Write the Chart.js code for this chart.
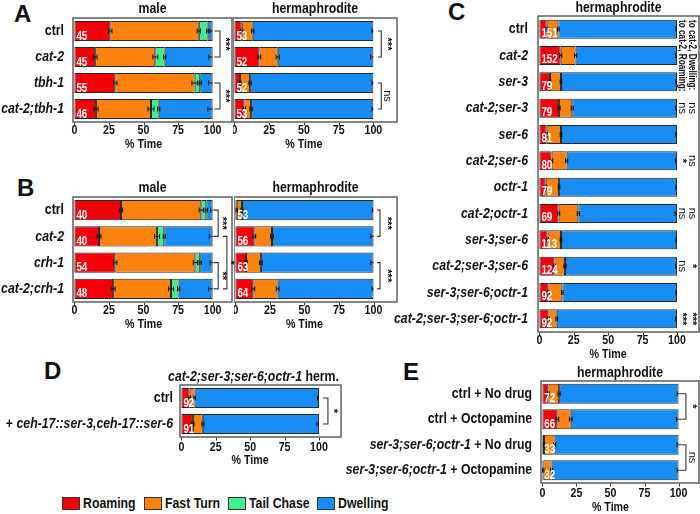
<!DOCTYPE html>
<html><head><meta charset="utf-8">
<script src="https://cdn.jsdelivr.net/npm/chart.js@4.4.1/dist/chart.umd.min.js"></script>
<style>
html,body{margin:0;padding:0;background:#fff;}
body{width:700px;height:514px;overflow:hidden;position:relative;}
canvas{position:absolute;}
.letter{position:absolute;font:bold 24px "Liberation Sans",Arial,sans-serif;line-height:24px;color:#111;}
.lbox{position:absolute;width:16px;height:11px;border:1.5px solid #333;top:497px;}
.ltxt{position:absolute;top:494px;font-weight:bold;font-size:15px;line-height:18px;color:#111;transform-origin:0 50%;white-space:nowrap;}
</style></head><body>
<div class="letter" style="left:14px;top:2px">A</div>
<div class="letter" style="left:17px;top:176px">B</div>
<div class="letter" style="left:448px;top:0px">C</div>
<div class="letter" style="left:44px;top:359px">D</div>
<div class="letter" style="left:403px;top:360px">E</div>
<script>
// ---------------- DATA ----------------
const behaviours = ['Roaming', 'Fast Turn', 'Tail Chase', 'Dwelling'];
const xTicks = [0, 25, 50, 75, 100];
const xTitle = '% Time';

// Panel A
const aLabels = ['ctrl', 'cat-2', 'tbh-1', 'cat-2;tbh-1'];
const aMaleRoaming = [26, 15, 29.6, 15.7];
const aMaleFastTurn = [64, 43.5, 57.4, 39.7];
const aMaleTailChase = [6.4, 6.8, 4, 5.6];
const aMaleDwelling = [3.6, 34.7, 9, 39];
const aMaleN = [45, 45, 55, 46];
const aMaleErr = [[1.2, 1.2, 0.8, 2], [1.4, 1.8, 0.8, 3], [1.2, 2, 0.8, 3], [1.4, 2.2, 0.8, 3.5]];
const aMaleSig = [[0, 1, '***'], [2, 3, '***']];
const aHermRoaming = [5.3, 18, 4, 7.2];
const aHermFastTurn = [7.9, 13.2, 7.3, 4.8];
const aHermDwelling = [86.8, 68.8, 88.7, 88];
const aHermN = [53, 52, 52, 53];
const aHermErr = [[0.8, 0.8, 1], [1, 1.2, 2], [0.8, 0.8, 1], [0.8, 0.8, 1]];
const aHermSig = [[0, 1, '***'], [2, 3, 'ns']];

// Panel B
const bLabels = ['ctrl', 'cat-2', 'crh-1', 'cat-2;crh-1'];
const bMaleRoaming = [33.7, 17.8, 29.6, 28];
const bMaleFastTurn = [58.1, 42, 57.9, 41.9];
const bMaleTailChase = [3.6, 5.2, 3.5, 5.5];
const bMaleDwelling = [4.6, 35, 9, 24.6];
const bMaleN = [40, 40, 54, 48];
const bMaleErr = [[1.2, 1.5, 0.8, 1.5], [1.4, 1.8, 0.8, 2.5], [1.2, 1.5, 0.8, 1.8], [1.4, 1.8, 0.8, 3]];
const bMaleSig = [[0, 1, '***'], [2, 3, '**']];
const bMaleSig2 = [[1, 3, '*']];
const bHermRoaming = [1, 13.7, 7.7, 13];
const bHermFastTurn = [3.8, 12.8, 10.8, 17.6];
const bHermDwelling = [95.2, 73.5, 81.5, 69.4];
const bHermN = [53, 56, 63, 64];
const bHermErr = [[0.5, 0.8, 0.8], [1, 1, 2], [1, 1, 2], [1, 1, 1]];
const bHermSig = [[0, 1, '***'], [2, 3, '***']];

// Panel C
const cLabels = ['ctrl', 'cat-2', 'ser-3', 'cat-2;ser-3', 'ser-6', 'cat-2;ser-6', 'octr-1',
  'cat-2;octr-1', 'ser-3;ser-6', 'cat-2;ser-3;ser-6', 'ser-3;ser-6;octr-1', 'cat-2;ser-3;ser-6;octr-1'];
const cRoaming = [5.3, 15.5, 7.7, 14.3, 5.3, 8.9, 4.6, 14, 6, 10.9, 6.5, 6.5];
const cFastTurn = [8.5, 10.8, 8, 9.6, 10.4, 10.9, 9.7, 14.3, 9.7, 7.7, 10.2, 6.1];
const cDwelling = [86.2, 73.7, 84.3, 76.1, 84.3, 80.2, 85.7, 71.7, 84.3, 81.4, 83.3, 87.4];
const cN = [151, 152, 79, 79, 81, 80, 79, 69, 113, 124, 92, 92];
const cErr = [[0.6, 0.6, 0.8], [0.8, 0.8, 1], [0.6, 0.6, 0.8], [0.8, 0.8, 1], [0.6, 0.6, 0.8], [0.8, 0.8, 1.2],
  [0.6, 0.6, 0.8], [0.8, 0.8, 1.5], [0.6, 0.6, 0.8], [0.8, 0.8, 1], [0.6, 0.6, 0.8], [0.6, 0.6, 1]];
const cRoamingSig = ['', '', '', 'ns', '', '*', '', 'ns', '', 'ns', '', '***'];
const cDwellingSig = ['', '', '', 'ns', '', 'ns', '', 'ns', '', '*', '', '***'];
const cSigHeaders = ['to cat-2, Roaming:', 'to cat-2, Dwelling:'];

// Panel D
const dLabels = ['ctrl', '+ ceh-17::ser-3,ceh-17::ser-6'];
const dRoaming = [6, 8.4];
const dFastTurn = [3.6, 7.2];
const dDwelling = [90.4, 84.4];
const dN = [92, 91];
const dErr = [[0.6, 0.6, 1], [0.8, 0.8, 1.5]];
const dSig = [[0, 1, '*']];

// Panel E
const eLabels = ['ctrl + No drug', 'ctrl + Octopamine', 'ser-3;ser-6;octr-1 + No drug', 'ser-3;ser-6;octr-1 + Octopamine'];
const eRoaming = [4.4, 11, 1.2, 0.7];
const eFastTurn = [7.9, 9.8, 7.8, 6.1];
const eDwelling = [87.7, 79.2, 91, 93.2];
const eN = [72, 66, 33, 32];
const eErr = [[0.8, 0.8, 1], [1, 1, 1.5], [0.5, 0.8, 1], [0.5, 0.8, 1]];
const eSig = [[0, 1, '*'], [2, 3, 'ns']];

// ---------------- STYLE ----------------
const COLORS = {'Roaming': '#f40009', 'Fast Turn': '#fb820f', 'Tail Chase': '#3fef8f', 'Dwelling': '#178cf2'};
const NARROW = (() => {
  const c = document.createElement('canvas').getContext('2d');
  c.font = 'bold 40px "Liberation Sans Narrow", monospace';
  const a = c.measureText('abcdefghij').width;
  c.font = 'bold 40px monospace';
  const b = c.measureText('abcdefghij').width;
  return Math.abs(a - b) > 0.5;
})();
const FAM = NARROW ? '"Liberation Sans Narrow"' : '"Liberation Sans"';
const FAMLIST = FAM + ', "Liberation Sans", Arial, sans-serif';
const CF = NARROW ? 1 : 0.82;
const TEXT = '#111';

// legend (HTML)
const legendX = [62, 144, 228, 317];
behaviours.forEach((b, i) => {
  const bx = document.createElement('div'); bx.className = 'lbox';
  bx.style.left = legendX[i] + 'px'; bx.style.background = COLORS[b];
  const tx = document.createElement('div'); tx.className = 'ltxt';
  tx.style.left = (legendX[i] + 21) + 'px'; tx.style.fontFamily = FAMLIST;
  tx.style.transform = 'scaleX(' + CF + ')'; tx.textContent = b;
  document.body.appendChild(bx); document.body.appendChild(tx);
});

function segsOf(label) {
  if (label.startsWith('ctrl')) return [{t: label, it: false}];
  if (label.startsWith('+ ')) return [{t: '+ ', it: false}, {t: label.slice(2), it: true}];
  const k = label.indexOf(' + ');
  if (k >= 0) return [{t: label.slice(0, k), it: true}, {t: label.slice(k), it: false}];
  return [{t: label, it: true}];
}
function fontStr(size, it, bold = true) { return (it ? 'italic ' : '') + (bold ? 'bold ' : '') + size + 'px ' + FAMLIST; }
function drawSegs(ctx, segs, x, y, size, align, bold = true) {
  ctx.save();
  let total = 0;
  segs.forEach(s => { ctx.font = fontStr(size, s.it, bold); s.w = ctx.measureText(s.t).width; total += s.w; });
  ctx.translate(x, y); ctx.scale(CF, 1);
  let cx = align === 'right' ? -total : align === 'center' ? -total / 2 : 0;
  ctx.textBaseline = 'middle'; ctx.textAlign = 'left'; ctx.fillStyle = TEXT;
  segs.forEach(s => { ctx.font = fontStr(size, s.it, bold); ctx.fillText(s.t, cx, 0); cx += s.w; });
  ctx.restore();
}
function rotText(ctx, text, x, y, font, align, cf) {
  ctx.save(); ctx.translate(x, y); ctx.rotate(Math.PI / 2); ctx.scale(cf, 1);
  ctx.font = font; ctx.textAlign = align; ctx.textBaseline = 'middle'; ctx.fillStyle = TEXT;
  ctx.fillText(text, 0, 0); ctx.restore();
}
const SIGFONT = t => (t === 'ns' ? '' : 'bold ') + '11px "Liberation Sans", Arial, sans-serif';

const panelPlugin = {
  id: 'panel',
  afterDraw(chart) {
    const o = chart.options.plugins.panel;
    const ctx = chart.ctx, a = chart.chartArea, xs = chart.scales.x, ys = chart.scales.y;
    const X = v => xs.getPixelForValue(v);
    const dsets = chart.data.datasets;
    const meta0 = chart.getDatasetMeta(0);
    ctx.save();
    // frame
    ctx.strokeStyle = '#5e5e5e'; ctx.lineWidth = 1.5;
    ctx.strokeRect(a.left, a.top, a.right - a.left, a.bottom - a.top);
    // x ticks, labels, title
    ctx.strokeStyle = '#333'; ctx.lineWidth = 1;
    xTicks.forEach(v => {
      const x = Math.round(X(v)) + 0.5;
      ctx.beginPath(); ctx.moveTo(x, a.bottom + 0.75); ctx.lineTo(x, a.bottom + 3.5); ctx.stroke();
      drawSegs(ctx, [{t: String(v), it: false}], X(v), a.bottom + o.tickOff, 13, 'center');
    });
    drawSegs(ctx, [{t: xTitle, it: false}], X(50), a.bottom + o.xTitleOff, 13, 'center');
    // error bars
    ctx.strokeStyle = '#111'; ctx.lineWidth = 1;
    chart.data.labels.forEach((lab, i) => {
      const y = ys.getPixelForValue(i);
      let cum = 0;
      dsets.forEach((ds, k) => {
        cum += ds.data[i];
        const e = o.err[i][k]; if (!e) return;
        const last = k === dsets.length - 1;
        const lo = X(cum - e), hi = last ? X(cum) : X(cum + e);
        ctx.beginPath(); ctx.moveTo(lo, y); ctx.lineTo(hi, y);
        ctx.moveTo(lo, y - 2.5); ctx.lineTo(lo, y + 2.5);
        if (!last) { ctx.moveTo(hi, y - 2.5); ctx.lineTo(hi, y + 2.5); }
        ctx.stroke();
      });
    });
    // counts
    ctx.fillStyle = '#fff'; ctx.textAlign = 'left'; ctx.textBaseline = 'alphabetic';
    o.n.forEach((n, i) => {
      const el = meta0.data[i];
      const y = el.y + el.height / 2 - 1.5;
      ctx.save(); ctx.translate(X(0) + 2, y); ctx.scale(CF, 1);
      ctx.font = fontStr(12, false); ctx.fillText(String(n), 0, 0); ctx.restore();
    });
    // category labels
    if (o.showLabels) {
      chart.data.labels.forEach((lab, i) => {
        drawSegs(ctx, segsOf(lab), a.left - o.labelGap, ys.getPixelForValue(i), 15, 'right');
      });
    }
    // title
    const tsegs = Array.isArray(o.title) ? o.title : [{t: o.title, it: false}];
    drawSegs(ctx, tsegs, (a.left + a.right) / 2 + (o.titleDx || 0), a.top - o.titleOff, 15, 'center');
    // significance brackets
    ctx.strokeStyle = '#333'; ctx.lineWidth = 1.1;
    (o.brackets || []).forEach(g => {
      g.pairs.forEach(([p, q, t]) => {
        const y1 = ys.getPixelForValue(p), y2 = ys.getPixelForValue(q);
        const x1 = X(g.x1), x2 = X(g.x2);
        ctx.beginPath(); ctx.moveTo(x1, y1); ctx.lineTo(x2, y1); ctx.lineTo(x2, y2); ctx.lineTo(x1, y2); ctx.stroke();
        rotText(ctx, t, X(g.tx), (y1 + y2) / 2, SIGFONT(t), 'center', 1);
      });
    });
    // column significance (panel C)
    (o.columns || []).forEach(c => {
      rotText(ctx, c.header, X(c.x), a.top + 4, 'bold 10px ' + FAMLIST, 'left', CF);
      c.values.forEach((t, i) => {
        if (!t) return;
        rotText(ctx, t, X(c.x), ys.getPixelForValue(i), SIGFONT(t), 'center', 1);
      });
    });
    ctx.restore();
  }
};

function makeChart(p) {
  const cv = document.createElement('canvas');
  cv.width = p.w; cv.height = p.h;
  cv.style.left = p.left + 'px'; cv.style.top = p.top + 'px';
  cv.style.width = p.w + 'px'; cv.style.height = p.h + 'px';
  document.body.appendChild(cv);
  const datasets = p.series.map(s => ({
    label: s.name, data: s.data, backgroundColor: COLORS[s.name],
    borderColor: '#262626', borderWidth: 1, borderSkipped: false,
    categoryPercentage: 1, barPercentage: p.barPct
  }));
  return new Chart(cv.getContext('2d'), {
    type: 'bar',
    data: {labels: p.labels, datasets},
    options: {
      indexAxis: 'y', responsive: false, animation: false, devicePixelRatio: 1,
      layout: {padding: {top: p.padTop, right: p.padRight, left: 0, bottom: 0}},
      plugins: {
        legend: {display: false}, tooltip: {enabled: false},
        panel: {err: p.err, n: p.n, showLabels: p.showLabels, labelGap: p.labelGap || 9,
          title: p.title, titleOff: p.titleOff || 9, titleDx: p.titleDx, brackets: p.brackets, columns: p.columns,
          tickOff: p.tickOff || 8, xTitleOff: p.xTitleOff || 22}
      },
      scales: {
        x: {
          stacked: true, min: -1, max: p.xMax,
          afterBuildTicks: s => { s.ticks = xTicks.map(v => ({value: v})); },
          afterFit: s => { s.height = p.xH; },
          ticks: {display: false},
          grid: {display: false},
          border: {display: false},
          title: {display: false}
        },
        y: {
          stacked: true, ticks: {display: false}, grid: {display: false}, border: {display: false},
          afterFit: s => { s.width = p.yW; }
        }
      }
    },
    plugins: [panelPlugin]
  });
}

const S = (names, arrs) => names.map((n, i) => ({name: n, data: arrs[i]}));
const M4 = ['Roaming', 'Fast Turn', 'Tail Chase', 'Dwelling'];
const H3 = ['Roaming', 'Fast Turn', 'Dwelling'];

// A
makeChart({left: 0, top: 0, w: 240, h: 152, yW: 73, padTop: 18, padRight: 8, xH: 30, xMax: 114, barPct: 0.77,
  labels: aLabels, series: S(M4, [aMaleRoaming, aMaleFastTurn, aMaleTailChase, aMaleDwelling]),
  err: aMaleErr, n: aMaleN, showLabels: true, title: 'male',
  brackets: [{x1: 101.2, x2: 105.3, tx: 109, pairs: aMaleSig}]});
makeChart({left: 233, top: 0, w: 170, h: 152, yW: 0, padTop: 18, padRight: 6, xH: 30, xMax: 117, barPct: 0.77,
  labels: aLabels, series: S(H3, [aHermRoaming, aHermFastTurn, aHermDwelling]),
  err: aHermErr, n: aHermN, showLabels: false, title: 'hermaphrodite',
  brackets: [{x1: 103.2, x2: 105.7, tx: 109.5, pairs: aHermSig}]});
// B
makeChart({left: 0, top: 179, w: 240, h: 153, yW: 73, padTop: 18, padRight: 8, xH: 30, xMax: 114, barPct: 0.77,
  labels: bLabels, series: S(M4, [bMaleRoaming, bMaleFastTurn, bMaleTailChase, bMaleDwelling]),
  err: bMaleErr, n: bMaleN, showLabels: true, title: 'male',
  brackets: [{x1: 100.6, x2: 104, tx: 106.6, pairs: bMaleSig}, {x1: 107.4, x2: 110.3, tx: 112.6, pairs: bMaleSig2}]});
makeChart({left: 234, top: 179, w: 170, h: 153, yW: 0, padTop: 18, padRight: 7, xH: 30, xMax: 117, barPct: 0.77,
  labels: bLabels, series: S(H3, [bHermRoaming, bHermFastTurn, bHermDwelling]),
  err: bHermErr, n: bHermN, showLabels: false, title: 'hermaphrodite',
  brackets: [{x1: 102.6, x2: 104.7, tx: 109.7, pairs: bHermSig}]});
// C
makeChart({left: 388, top: 0, w: 312, h: 362, yW: 150, padTop: 16, padRight: 1, xH: 30, xMax: 116, barPct: 0.72,
  labels: cLabels, series: S(H3, [cRoaming, cFastTurn, cDwelling]),
  err: cErr, n: cN, showLabels: true, labelGap: 10, title: 'hermaphrodite', titleOff: 8,
  columns: [{x: 103.5, header: cSigHeaders[0], values: cRoamingSig}, {x: 110.7, header: cSigHeaders[1], values: cDwellingSig}]});
// D
makeChart({left: 0, top: 367, w: 345, h: 100, yW: 180, padTop: 18, padRight: 4, xH: 30, xMax: 116, barPct: 0.77,
  labels: dLabels, series: S(H3, [dRoaming, dFastTurn, dDwelling]),
  err: dErr, n: dN, showLabels: true, labelGap: 7, tickOff: 10, xTitleOff: 23,
  title: [{t: 'cat-2;ser-3;ser-6;octr-1', it: true}, {t: ' herm.', it: false}], titleOff: 8, titleDx: -7,
  brackets: [{x1: 102.9, x2: 106.5, tx: 110, pairs: dSig}]});
// E
makeChart({left: 338, top: 363, w: 362, h: 151, yW: 203, padTop: 18, padRight: 1, xH: 31, xMax: 115, barPct: 0.78,
  labels: eLabels, series: S(H3, [eRoaming, eFastTurn, eDwelling]),
  err: eErr, n: eN, showLabels: true, labelGap: 9, title: 'hermaphrodite', titleOff: 8, tickOff: 10, xTitleOff: 24,
  brackets: [{x1: 100.3, x2: 105.4, tx: 109.6, pairs: eSig}]});
</script>
</body></html>
